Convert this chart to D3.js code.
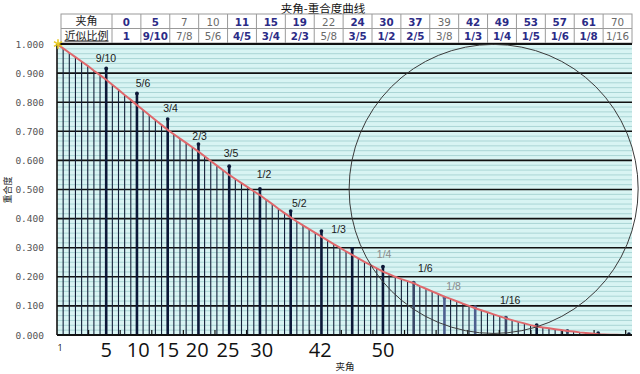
<!DOCTYPE html>
<html><head><meta charset="utf-8">
<script src="https://cdn.jsdelivr.net/npm/d3@7"></script>
<style>body{margin:0;background:#fff}svg{display:block}</style>
</head><body><svg id="c" width="640" height="374"></svg>
<script>
// ---------------- data ----------------
const chartTitle = "夹角-重合度曲线";
const yTitle = "重合度";
const xTitle = "夹角";
const tableHead = ["夹角", "近似比例"];
const tableAngles = ["0","5","7","10","11","15","19","22","24","30","37","39","42","49","53","57","61","70"];
const tableRatios = ["1","9/10","7/8","5/6","4/5","3/4","2/3","5/8","3/5","1/2","2/5","3/8","1/3","1/4","1/5","1/6","1/8","1/16"];
const tableBold   = [1,1,0,0,1,1,1,0,1,1,1,0,1,1,1,1,1,0];

// overlap value for each step index 0..93
const overlap = [
 1.000,0.985,0.970,0.955,0.940,0.925,0.908,0.893,0.877,0.860,
 0.843,0.825,0.808,0.790,0.773,0.756,0.739,0.722,0.705,0.690,
 0.675,0.660,0.645,0.630,0.614,0.598,0.582,0.566,0.550,0.536,
 0.522,0.508,0.494,0.481,0.465,0.450,0.434,0.419,0.404,0.390,
 0.377,0.364,0.351,0.338,0.325,0.312,0.300,0.287,0.275,0.263,
 0.251,0.240,0.229,0.218,0.209,0.200,0.192,0.185,0.178,0.168,
 0.159,0.150,0.141,0.132,0.124,0.116,0.108,0.100,0.092,0.085,
 0.078,0.071,0.064,0.057,0.051,0.045,0.040,0.034,0.029,0.026,
 0.023,0.020,0.017,0.014,0.012,0.009,0.007,0.005,0.003,0.002,
 0.001,0.001,0.000,0.000];

// highlighted (thick) steps and the ratio height they reach
const peakIdx  = [8,13,18,23,28,33,38,43,48,53,58,63,68,73,78,83,88,93];
const peakVals = [0.916,0.830,0.742,0.656,0.580,0.502,0.426,0.357,0.296,0.235,0.180,0.128,0.096,0.060,0.034,0.014,0.006,0.003];
const peakTone = [0,0,0,0,0,0,0,0,0,0,1,2,2,1,0,1,0,0];

// ratio annotations: text, step position, value position, tone
const noteText = ["9/10","5/6","3/4","2/3","3/5","1/2","5/2","1/3","1/4","1/6","1/8","1/16"];
const noteIdx  = [7.95,14.0,18.45,23.2,28.3,33.66,39.4,45.8,53.2,59.9,64.5,73.7];
const noteVal  = [0.950,0.864,0.779,0.681,0.624,0.550,0.453,0.364,0.278,0.230,0.165,0.118];
const noteGray = [0,0,0,0,0,0,0,0,1,0,1,0];

// hand-written big labels under the axis (text, step position)
const bottomText = ["1","5","10","15","20","25","30","42","50"];
const bottomIdx  = [0.5,8,13.2,18,22.8,27.8,33.3,42.8,53];
const bottomBig  = [0,1,1,1,1,1,1,1,1];

const yTicks = [0,0.1,0.2,0.3,0.4,0.5,0.6,0.7,0.8,0.9,1.0];

// overlay circle: centre (step, value) and radius in steps
const circleCenter = [71.0, 0.502];
const circleRadius = 23.5;

// ---------------- drawing ----------------
const svg = d3.select("#c");
const L = 57, R = 632, T = 44, B = 335;
const x = d3.scaleLinear().domain([0, 93.5]).range([L, R]);
const y = d3.scaleLinear().domain([0, 1]).range([B, T]);
const tickScale = d3.scaleLinear().domain([0, 91]).range([L, R]);

// title
svg.append("text").attr("x", 323).attr("y", 12.5).attr("text-anchor", "middle")
  .attr("font-family", "Noto Sans CJK SC").attr("font-size", 11.5).attr("fill", "#111")
  .text(chartTitle);

// table
const tx0 = 61, tx1 = 112, rowY = [14, 28.5, 43];
const col = d3.scaleBand().domain(d3.range(tableAngles.length)).range([tx1, R]);
const tbl = svg.append("g");
tbl.append("rect").attr("x", tx0).attr("y", rowY[0]).attr("width", R - tx0).attr("height", rowY[2] - rowY[0])
  .attr("fill", "#fff").attr("stroke", "#9a9a9a");
tbl.append("line").attr("x1", tx0).attr("x2", R).attr("y1", rowY[1]).attr("y2", rowY[1]).attr("stroke", "#9a9a9a");
tbl.selectAll("line.sep").data(d3.range(tableAngles.length)).join("line")
  .attr("x1", d => col(d)).attr("x2", d => col(d)).attr("y1", rowY[0]).attr("y2", rowY[2]).attr("stroke", "#9a9a9a");
tableHead.forEach((t, r) => {
  tbl.append("text").attr("x", (tx0 + tx1) / 2).attr("y", rowY[r] + 11).attr("text-anchor", "middle")
    .attr("font-family", "Noto Sans CJK SC").attr("font-size", 11).attr("fill", "#222")
    .attr("text-decoration", r === 1 ? "underline" : null).text(t);
});
[tableAngles, tableRatios].forEach((row, r) => {
  tbl.selectAll("text.r" + r).data(row).join("text")
    .attr("x", (d, i) => col(i) + col.bandwidth() / 2).attr("y", rowY[r] + 11.5)
    .attr("text-anchor", "middle").attr("font-family", "DejaVu Sans")
    .attr("font-size", 10.3)
    .attr("font-weight", (d, i) => tableBold[i] ? "bold" : "normal")
    .attr("fill", (d, i) => tableBold[i] ? "#2b2b86" : "#6a6a6a")
    .text(d => d);
});

// plot background
svg.append("rect").attr("x", L).attr("y", T).attr("width", R - L).attr("height", B - T).attr("fill", "#d8f4f3");
const minor = d3.range(1, 60).filter(k => k % 6 !== 0).map(k => k / 60);
svg.append("g").selectAll("line").data(minor).join("line")
  .attr("x1", L).attr("x2", R).attr("y1", d => y(d)).attr("y2", d => y(d))
  .attr("stroke", "#aad5d5").attr("stroke-width", 1);
svg.append("g").selectAll("line").data(yTicks.filter(v => v > 0 && v < 1)).join("line")
  .attr("x1", L).attr("x2", R).attr("y1", d => y(d)).attr("y2", d => y(d))
  .attr("stroke", "#111").attr("stroke-width", 1.6);

// thin drop lines
const thin = d3.range(1, overlap.length).filter(i => !peakIdx.includes(i));
svg.append("g").selectAll("line").data(thin).join("line")
  .attr("x1", i => x(i)).attr("x2", i => x(i)).attr("y1", B).attr("y2", i => y(overlap[i]))
  .attr("stroke", "#14203a").attr("stroke-width", 1.1);

// thick lines
const toneCol = ["#0c1838", "#3a4868", "#4d5f8f"];
svg.append("g").selectAll("line").data(peakIdx).join("line")
  .attr("x1", i => x(i)).attr("x2", i => x(i)).attr("y1", B).attr("y2", (i, k) => y(peakVals[k]))
  .attr("stroke", (i, k) => toneCol[peakTone[k]]).attr("stroke-width", 2.6);
svg.append("g").selectAll("circle").data(peakIdx).join("circle")
  .attr("cx", i => x(i)).attr("cy", (i, k) => y(peakVals[k])).attr("r", 1.9)
  .attr("fill", (i, k) => toneCol[peakTone[k]]);

// small axis ticks (inside)
svg.append("g").selectAll("line").data(d3.range(5, 91, 5)).join("line")
  .attr("x1", d => tickScale(d)).attr("x2", d => tickScale(d)).attr("y1", B).attr("y2", B - 5)
  .attr("stroke", "#111").attr("stroke-width", 1.2);

// red curve
svg.append("path").datum(overlap.concat([0])).attr("d", d3.line().x((d, i) => x(Math.min(i, 93.5))).y(d => y(d)))
  .attr("fill", "none").attr("stroke", "#e0676b").attr("stroke-width", 2);

// axes frame
svg.append("line").attr("x1", L).attr("x2", L).attr("y1", T).attr("y2", B).attr("stroke", "#111").attr("stroke-width", 1.6);
svg.append("line").attr("x1", L).attr("x2", R).attr("y1", B).attr("y2", B).attr("stroke", "#111").attr("stroke-width", 1.8);
svg.append("line").attr("x1", L).attr("x2", R).attr("y1", T).attr("y2", T).attr("stroke", "#111").attr("stroke-width", 2);

// start marker
svg.append("path").attr("d", d3.symbol(d3.symbolAsterisk, 60)())
  .attr("transform", `translate(${x(0) + 1},${y(1)})`).attr("stroke", "#e6c81e").attr("stroke-width", 1.5).attr("fill", "none");

// annotations
svg.append("g").selectAll("text").data(noteText).join("text")
  .attr("x", (d, k) => x(noteIdx[k])).attr("y", (d, k) => y(noteVal[k]) + 3.5)
  .attr("text-anchor", "middle").attr("font-family", "Liberation Sans").attr("font-size", 10.5)
  .attr("fill", (d, k) => noteGray[k] ? "#8a8a8a" : "#1a1a1a").text(d => d);

// overlay circle
const rPx = x(circleRadius) - x(0);
svg.append("circle").attr("cx", x(circleCenter[0])).attr("cy", y(circleCenter[1])).attr("r", rPx)
  .attr("fill", "none").attr("stroke", "#3a3a3a").attr("stroke-width", 1);

// y tick labels
svg.append("g").selectAll("text").data(yTicks).join("text")
  .attr("x", 44).attr("y", d => y(d) + 3.5).attr("text-anchor", "end")
  .attr("font-family", "DejaVu Sans Mono").attr("font-size", 9.5).attr("fill", "#555")
  .text(d => d3.format(".3f")(d));

// axis titles
svg.append("text").attr("transform", "translate(11,190) rotate(-90)").attr("text-anchor", "middle")
  .attr("font-family", "Noto Sans CJK SC").attr("font-size", 9).attr("fill", "#222").text(yTitle);
svg.append("text").attr("x", 345).attr("y", 370).attr("text-anchor", "middle")
  .attr("font-family", "Noto Sans CJK SC").attr("font-size", 9.5).attr("fill", "#222").text(xTitle);

// bottom labels
svg.append("g").selectAll("text").data(bottomText).join("text")
  .attr("x", (d, k) => x(bottomIdx[k])).attr("y", (d, k) => bottomBig[k] ? 357 : 351)
  .attr("text-anchor", "middle").attr("font-family", "Open Sans")
  .attr("font-size", (d, k) => bottomBig[k] ? 20 : 9).attr("fill", "#111").text(d => d);
</script>
</body></html>
